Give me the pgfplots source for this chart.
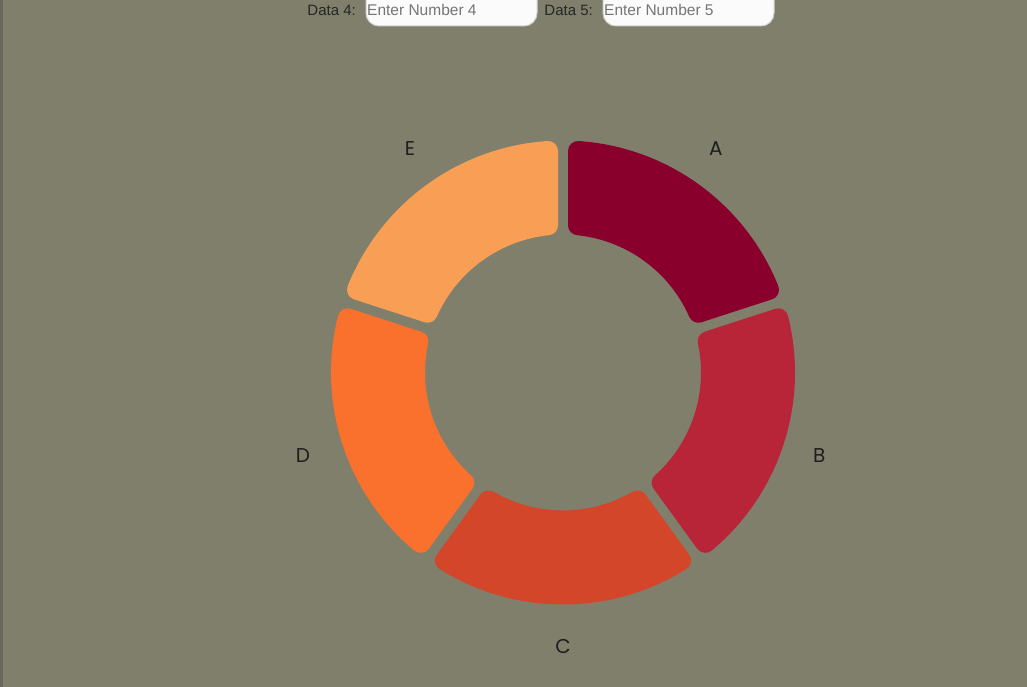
\documentclass[border=0pt]{standalone}
\usepackage{pgfplots}
\pgfplotsset{compat=1.18}
\usepackage{pgfplotstable}
\usepackage{fontspec}
\setmainfont{Liberation Sans}
\newfontfamily\labelfont{Poppins}
\definecolor{bg}{RGB}{128,127,108}
\definecolor{edge}{RGB}{104,104,96}
\definecolor{c0}{RGB}{138,0,44}
\definecolor{c1}{RGB}{184,37,57}
\definecolor{c2}{RGB}{212,70,42}
\definecolor{c3}{RGB}{250,112,45}
\definecolor{c4}{RGB}{249,159,85}
\definecolor{ph}{RGB}{117,117,117}
\definecolor{lab}{RGB}{30,30,30}

% value of each slice, and a small nudge (px) of its label
\pgfplotstableread{
label value ndx ndy
A 1 -7 3.5
B 1 -2.5 1.5
C 1 0 -2.5
D 1 -1.3 1.5
E 1 7 3.5
}\piedata

% geometry (pixels): centre, radii, half gap, corner radius
\def\cx{563}
\def\cy{314.5}
\def\Rout{232}
\def\Rin{138}
\def\halfgap{5}
\def\corner{10}

\begin{document}
\begin{tikzpicture}
\useasboundingbox (0,0) rectangle (1027pt,687pt);
\clip (0,0) rectangle (1027pt,687pt);
% ---- compute segment angles from the data
\pgfplotstablegetrowsof{\piedata}
\pgfmathtruncatemacro\nrows{\pgfplotsretval}
\pgfmathtruncatemacro\lastrow{\nrows-1}
\def\total{0}
\pgfplotsforeachungrouped \i in {0,...,\lastrow}{%
  \pgfplotstablegetelem{\i}{value}\of\piedata
  \pgfmathsetmacro\total{\total+\pgfplotsretval}}
\pgfmathsetmacro\Ro{\Rout-\corner}
\pgfmathsetmacro\Ri{\Rin+\corner}
\pgfmathsetmacro\dd{\halfgap+\corner}
\pgfmathsetmacro\dout{asin(\dd/\Ro)}
\pgfmathsetmacro\din{asin(\dd/\Ri)}
\def\cum{0}
\pgfplotsforeachungrouped \i in {0,...,\lastrow}{%
  \pgfplotstablegetelem{\i}{value}\of\piedata
  \pgfmathsetmacro\a{\cum/\total*360}
  \pgfmathsetmacro\cum{\cum+\pgfplotsretval}
  \pgfmathsetmacro\b{\cum/\total*360}
  \pgfmathsetmacro\oS{90-\a-\dout}
  \pgfmathsetmacro\oE{90-\b+\dout}
  \pgfmathsetmacro\iS{90-\a-\din}
  \pgfmathsetmacro\iE{90-\b+\din}
  \pgfmathsetmacro\mid{90-(\a+\b)/2}
  \expandafter\xdef\csname oS\i\endcsname{\oS}
  \expandafter\xdef\csname oE\i\endcsname{\oE}
  \expandafter\xdef\csname iS\i\endcsname{\iS}
  \expandafter\xdef\csname iE\i\endcsname{\iE}
  \pgfplotstablegetelem{\i}{ndx}\of\piedata
  \pgfmathsetmacro\lx{\cx+272*cos(\mid)+\pgfplotsretval}
  \pgfplotstablegetelem{\i}{ndy}\of\piedata
  \pgfmathsetmacro\ly{\cy+272*sin(\mid)+\pgfplotsretval}
  \expandafter\xdef\csname lx\i\endcsname{\lx}
  \expandafter\xdef\csname ly\i\endcsname{\ly}
  \pgfplotstablegetelem{\i}{label}\of\piedata
  \expandafter\xdef\csname lab\i\endcsname{\pgfplotsretval}
}
\begin{axis}[
  at={(0,0)}, anchor=south west,
  x=1pt, y=1pt, scale only axis,
  xmin=0, xmax=1027, ymin=0, ymax=687,
  hide axis, clip=false]
\fill[bg] (axis cs:0,0) rectangle (axis cs:1027,687);
\fill[edge] (axis cs:0,0) rectangle (axis cs:3,687);
\pgfplotsinvokeforeach{0,...,4}{
  \path[fill=c#1, draw=c#1, line width=2*\corner pt, line join=round]
    (axis cs:{\cx+\Ro*cos(\csname oS#1\endcsname)},{\cy+\Ro*sin(\csname oS#1\endcsname)})
    arc[start angle=\csname oS#1\endcsname, end angle=\csname oE#1\endcsname, radius=\Ro pt]
    -- (axis cs:{\cx+\Ri*cos(\csname iE#1\endcsname)},{\cy+\Ri*sin(\csname iE#1\endcsname)})
    arc[start angle=\csname iE#1\endcsname, end angle=\csname iS#1\endcsname, radius=\Ri pt]
    -- cycle;
  \node[text=lab, font=\labelfont\fontsize{20pt}{24pt}\selectfont, inner sep=0pt]
    at (axis cs:\csname lx#1\endcsname,\csname ly#1\endcsname)
    {\csname lab#1\endcsname};
}
% input fields at the top
\path[fill=white!97!gray, draw=gray!35, line width=1pt, rounded corners=13pt]
  (axis cs:366,661) rectangle (axis cs:537,700);
\path[fill=white!97!gray, draw=gray!35, line width=1pt, rounded corners=13pt]
  (axis cs:603,661) rectangle (axis cs:774,700);
\node[anchor=base east, inner sep=0pt, text=black!85, font=\fontsize{15pt}{17pt}\selectfont]
  at (axis cs:356,671) {Data 4:};
\node[anchor=base west, inner sep=0pt, text=ph, font=\fontsize{15.5pt}{17pt}\selectfont]
  at (axis cs:367,671) {Enter Number 4};
\node[anchor=base east, inner sep=0pt, text=black!85, font=\fontsize{15pt}{17pt}\selectfont]
  at (axis cs:593,671) {Data 5:};
\node[anchor=base west, inner sep=0pt, text=ph, font=\fontsize{15.5pt}{17pt}\selectfont]
  at (axis cs:604,671) {Enter Number 5};
\end{axis}
\end{tikzpicture}
\end{document}
